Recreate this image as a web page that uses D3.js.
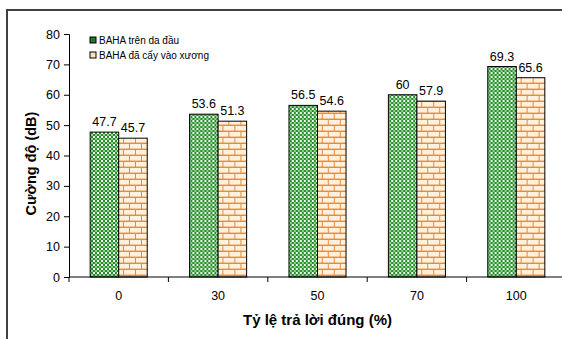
<!DOCTYPE html>
<html>
<head>
<meta charset="utf-8">
<script src="https://cdn.jsdelivr.net/npm/d3@7"></script>
<style>
  html, body { margin: 0; padding: 0; background: #fff; }
  svg { display: block; font-family: "Liberation Sans", Arial, sans-serif; }
</style>
</head>
<body>
<svg id="chart" width="562" height="339"></svg>
<script>
// Percentage of correct answers (x categories)
const categories = ["0", "30", "50", "70", "100"];
// Series names
const seriesNames = ["BAHA trên da đầu", "BAHA đã cấy vào xương"];
// Intensity (dB) per series
const skinValues = [47.7, 53.6, 56.5, 60, 69.3];
const implantValues = [45.7, 51.3, 54.6, 57.9, 65.6];
const yTicks = [0, 10, 20, 30, 40, 50, 60, 70, 80];

(function () {
const seriesValues = [skinValues, implantValues];
const rows = categories.map((c, i) => ({
  cat: c,
  vals: seriesNames.map((s, j) => ({ key: s, idx: j, value: seriesValues[j][i] }))
}));

const svg = d3.select("#chart");
const defs = svg.append("defs");

// Green checker fill
const chk = defs.append("pattern").attr("id", "checker")
  .attr("patternUnits", "userSpaceOnUse").attr("width", 4).attr("height", 4);
chk.append("rect").attr("width", 4).attr("height", 4).attr("fill", "#2a8a32");
chk.append("rect").attr("x", 0).attr("y", 0).attr("width", 2).attr("height", 2).attr("fill", "#f2fff0");
chk.append("rect").attr("x", 2).attr("y", 2).attr("width", 2).attr("height", 2).attr("fill", "#8fd68a");

// Orange brick fill
const brk = defs.append("pattern").attr("id", "brick")
  .attr("patternUnits", "userSpaceOnUse").attr("width", 12).attr("height", 12);
brk.append("rect").attr("width", 12).attr("height", 12).attr("fill", "#fff1de");
brk.append("rect").attr("x", 0).attr("y", 5).attr("width", 12).attr("height", 1).attr("fill", "#e88a3a");
brk.append("rect").attr("x", 0).attr("y", 11).attr("width", 12).attr("height", 1).attr("fill", "#e88a3a");
brk.append("rect").attr("x", 0).attr("y", 0).attr("width", 1).attr("height", 5).attr("fill", "#e88a3a");
brk.append("rect").attr("x", 6).attr("y", 6).attr("width", 1).attr("height", 5).attr("fill", "#e88a3a");
brk.append("rect").attr("x", 1).attr("y", 4).attr("width", 11).attr("height", 1).attr("fill", "#f6c794");
brk.append("rect").attr("x", 0).attr("y", 10).attr("width", 6).attr("height", 1).attr("fill", "#f6c794");
brk.append("rect").attr("x", 7).attr("y", 10).attr("width", 5).attr("height", 1).attr("fill", "#f6c794");

const fills = ["url(#checker)", "url(#brick)"];
const legendFills = ["#1f7a2a", "#fde3bd"];

// Outer frame (runs past the right and bottom edges)
svg.append("rect").attr("x", 7).attr("y", 10).attr("width", 600).attr("height", 400)
  .attr("fill", "none").attr("stroke", "#404040").attr("stroke-width", 2);

const plotLeft = 69, plotRight = 566, plotTop = 34, plotBottom = 277;

const x = d3.scaleBand().domain(categories).range([plotLeft, plotRight]).padding(0);
const bw = x.bandwidth();
const x1 = d3.scaleBand().domain(seriesNames).range([bw * 0.213, bw * 0.787]).padding(0);
const y = d3.scaleLinear().domain([0, 80]).range([plotBottom, plotTop]);

// Y axis
const yAxis = svg.append("g").attr("transform", `translate(${plotLeft},0)`)
  .call(d3.axisLeft(y).tickValues(yTicks).tickSize(5).tickPadding(4).tickFormat(d3.format("d")));
yAxis.selectAll("path, line").attr("stroke", "#000");
yAxis.selectAll("text").attr("font-size", 12.5).attr("fill", "#000")
  .attr("font-family", "Liberation Sans, Arial, sans-serif");

// Bars
const groups = svg.append("g").selectAll("g").data(rows).join("g")
  .attr("transform", d => `translate(${x(d.cat)},0)`);
groups.selectAll("rect").data(d => d.vals).join("rect")
  .attr("x", d => x1(d.key))
  .attr("y", d => y(d.value))
  .attr("width", x1.bandwidth())
  .attr("height", d => y(0) - y(d.value))
  .attr("fill", d => fills[d.idx])
  .attr("stroke", "#000").attr("stroke-width", 1);

groups.selectAll("text.val").data(d => d.vals).join("text")
  .attr("class", "val")
  .attr("x", d => x1(d.key) + x1.bandwidth() / 2)
  .attr("y", d => y(d.value) - 6)
  .attr("text-anchor", "middle")
  .attr("font-size", 12.5).attr("fill", "#000")
  .text(d => d.value);

// X axis: line with ticks at band boundaries, labels at band centres
const xAxisG = svg.append("g").attr("transform", `translate(0,${plotBottom})`);
xAxisG.append("line").attr("x1", plotLeft).attr("x2", plotRight).attr("y1", 0).attr("y2", 0).attr("stroke", "#000");
const bounds = categories.map(c => x(c)).concat([plotRight]);
xAxisG.selectAll("line.tick").data(bounds).join("line").attr("class", "tick")
  .attr("x1", d => d).attr("x2", d => d).attr("y1", 0).attr("y2", 5).attr("stroke", "#000");
xAxisG.selectAll("text").data(categories).join("text")
  .attr("x", d => x(d) + bw / 2).attr("y", 23)
  .attr("text-anchor", "middle").attr("font-size", 12.5).attr("fill", "#000")
  .text(d => d);

// Axis titles
svg.append("text").attr("x", (plotLeft + plotRight) / 2).attr("y", 325)
  .attr("text-anchor", "middle").attr("font-size", 15).attr("font-weight", "bold")
  .text("Tỷ lệ trả lời đúng (%)");
svg.append("text").attr("transform", `translate(36,${(plotTop + plotBottom) / 2 + 8}) rotate(-90)`)
  .attr("text-anchor", "middle").attr("font-size", 14.5).attr("font-weight", "bold")
  .text("Cường độ (dB)");

// Legend
const legend = svg.append("g").attr("transform", "translate(90,37)");
const li = legend.selectAll("g").data(seriesNames).join("g")
  .attr("transform", (d, i) => `translate(0,${i * 15})`);
li.append("rect").attr("x", 0).attr("y", 0).attr("width", 6).attr("height", 6)
  .attr("fill", (d, i) => legendFills[i]).attr("stroke", "#000").attr("stroke-width", 1);
li.append("text").attr("x", 9).attr("y", 7).attr("font-size", 10).attr("fill", "#000")
  .text(d => d);
})();
</script>
</body>
</html>
